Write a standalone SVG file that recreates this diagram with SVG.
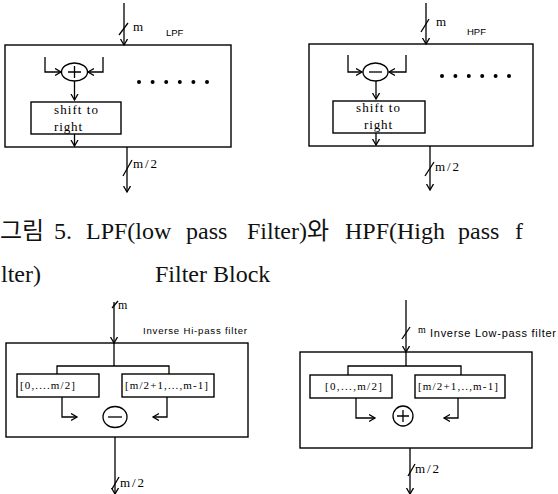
<svg xmlns="http://www.w3.org/2000/svg" width="558" height="494" viewBox="0 0 558 494">
<style>
.ln{fill:none;stroke:#000;stroke-width:1.3}
.bx{fill:#fff;stroke:#000;stroke-width:1.4}
.ar{fill:none;stroke:#000;stroke-width:1.3;marker-end:url(#v)}
.s{font-family:"Liberation Serif",serif;fill:#000}
.ss{font-family:"Liberation Sans",sans-serif;fill:#000}
.cap{font-family:"Liberation Serif","Noto Sans CJK KR",serif;font-size:24px;fill:#111}
.dot{fill:#000}
</style>
<defs>
<marker id="v" markerUnits="userSpaceOnUse" markerWidth="10" markerHeight="10" refX="6" refY="4" orient="auto">
<path d="M0,0.5 L6,4 L0,7.5" fill="none" stroke="#000" stroke-width="1.3"/>
</marker>
</defs>
<rect width="558" height="494" fill="#fff"/>

<g id="lpf">
<rect class="bx" x="5" y="45" width="226" height="102"/>
<ellipse class="ln" cx="74.5" cy="72" rx="13" ry="9"/>
<path class="ln" d="M68,72 H81 M74.5,66 V78"/>
<rect class="bx" x="31" y="102" width="90" height="32"/>
<text class="s" x="54" y="114" font-size="13" textLength="44">shift to</text>
<text class="s" x="54" y="131" font-size="13" textLength="28">right</text>
<g class="dot"><circle cx="139" cy="82" r="2"/><circle cx="152.6" cy="82" r="2"/><circle cx="166.2" cy="82" r="2"/><circle cx="179.8" cy="82" r="2"/><circle cx="193.4" cy="82" r="2"/><circle cx="207" cy="82" r="2"/></g>
<text class="s" x="133" y="31" font-size="13">m</text>
<text class="ss" x="166" y="36" font-size="9.5">LPF</text>
<text class="s" x="133" y="168" font-size="13" textLength="24">m/2</text>
</g>

<g id="hpf">
<rect class="bx" x="309" y="44" width="224" height="102"/>
<ellipse class="ln" cx="375.5" cy="72" rx="12.5" ry="9"/>
<path class="ln" d="M369,72 H382"/>
<rect class="bx" x="333" y="101" width="92" height="32"/>
<text class="s" x="356" y="112" font-size="13" textLength="44">shift to</text>
<text class="s" x="364" y="129" font-size="13" textLength="28">right</text>
<g class="dot"><circle cx="442" cy="76" r="2"/><circle cx="455.4" cy="76" r="2"/><circle cx="468.8" cy="76" r="2"/><circle cx="482.2" cy="76" r="2"/><circle cx="495.6" cy="76" r="2"/><circle cx="509" cy="76" r="2"/></g>
<text class="s" x="436" y="26" font-size="13">m</text>
<text class="ss" x="467" y="35" font-size="9.5">HPF</text>
<text class="s" x="435" y="171" font-size="13" textLength="24">m/2</text>
</g>

<g id="caption">
<text class="cap" y="239"><tspan x="0">그림</tspan><tspan x="54">5.</tspan><tspan x="86">LPF(low</tspan><tspan x="186">pass</tspan><tspan x="247">Filter)와</tspan><tspan x="345">HPF(High</tspan><tspan x="458">pass</tspan><tspan x="515">f</tspan></text>
<text class="cap" y="282"><tspan x="1">lter)</tspan><tspan x="155">Filter Block</tspan></text>
</g>

<g id="ihpf">
<rect class="bx" x="6" y="343" width="242" height="94"/>
<rect class="bx" x="17" y="374" width="82" height="23"/>
<rect class="bx" x="122" y="374" width="92" height="23"/>
<text class="s" x="20" y="389" font-size="11" textLength="55">[0,....m/2]</text>
<text class="s" x="125" y="389" font-size="11" textLength="83">[m/2+1,...,m-1]</text>
<ellipse class="ln" cx="115" cy="417" rx="12" ry="10.5"/>
<path class="ln" d="M108,417 H122"/>
<text class="s" x="118" y="309" font-size="12">m</text>
<text class="ss" x="143" y="334" font-size="9.6" textLength="104">Inverse Hi-pass filter</text>
<text class="s" x="120" y="487" font-size="13" textLength="24">m/2</text>
</g>

<g id="ilpf">
<rect class="bx" x="300" y="352" width="232" height="96"/>
<rect class="bx" x="310" y="375" width="82" height="23"/>
<rect class="bx" x="415" y="375" width="90" height="23"/>
<text class="s" x="325" y="390" font-size="11" textLength="57">[0,...,m/2]</text>
<text class="s" x="418" y="390" font-size="11" textLength="80">[m/2+1,..,m-1]</text>
<circle class="ln" cx="403" cy="416" r="10"/>
<path class="ln" d="M397,416 H409 M403,410 V422"/>
<text class="s" x="418" y="333" font-size="10">m</text>
<text class="ss" x="430" y="337" font-size="11" textLength="126">Inverse Low-pass filter</text>
<text class="s" x="415" y="473" font-size="13" textLength="24">m/2</text>
</g>

<g id="connectors">
<!-- LPF -->
<path class="ar" d="M124,3 V45"/>
<path class="ln" d="M119,35 L128,23"/>
<path class="ar" d="M45,57 V72 H61"/>
<path class="ar" d="M103,57 V72 H88"/>
<path class="ar" d="M74.5,81 V100"/>
<path class="ar" d="M74.5,134 V146"/>
<path class="ar" d="M127,147 V192"/>
<path class="ln" d="M123,176 L132,160"/>
<!-- HPF -->
<path class="ar" d="M426,3 V44"/>
<path class="ln" d="M421,32 L429,19"/>
<path class="ar" d="M348,55 V72 H362"/>
<path class="ar" d="M406,55 V72 H389"/>
<path class="ar" d="M376,81 V99"/>
<path class="ar" d="M376,133 V145"/>
<path class="ar" d="M430,146 V190"/>
<path class="ln" d="M425,176 L434,162"/>
<!-- Inverse Hi-pass -->
<path class="ar" d="M114,302 V343"/>
<path class="ln" d="M112,308 L118,301"/>
<path class="ln" d="M114,343 V366 M57,374 V366 H169 V374"/>
<path class="ar" d="M62,397 V417 H77"/>
<path class="ar" d="M167,397 V417 H153"/>
<path class="ar" d="M115,437 V494"/>
<path class="ln" d="M112,489 L119,477"/>
<!-- Inverse Low-pass -->
<path class="ar" d="M406,300 V352"/>
<path class="ln" d="M402,339 L410,327"/>
<path class="ln" d="M406,352 V366 M348,375 V366 H461 V375"/>
<path class="ar" d="M356,398 V418 H375"/>
<path class="ar" d="M458,398 V418 H444"/>
<path class="ar" d="M410,448 V494"/>
<path class="ln" d="M408,476 L415,464"/>
</g>
</svg>
